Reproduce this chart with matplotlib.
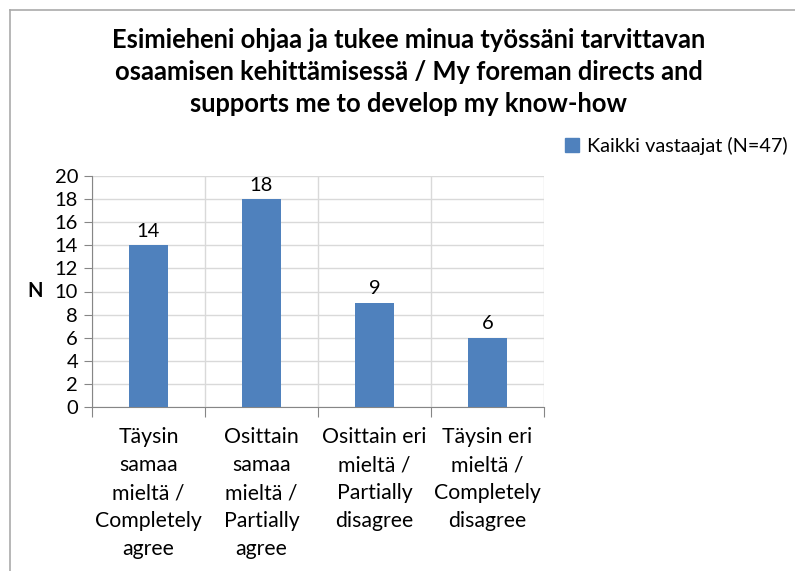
import matplotlib
matplotlib.use("Agg")
import matplotlib.pyplot as plt
from matplotlib.patches import Rectangle
from matplotlib.lines import Line2D

categories = ["Täysin\nsamaa\nmieltä /\nCompletely\nagree",
              "Osittain\nsamaa\nmieltä /\nPartially\nagree",
              "Osittain eri\nmieltä /\nPartially\ndisagree",
              "Täysin eri\nmieltä /\nCompletely\ndisagree"]
values = [14, 18, 9, 6]
series_name = "Kaikki vastaajat (N=47)"
title = "Esimieheni ohjaa ja tukee minua työssäni tarvittavan\nosaamisen kehittämisessä / My foreman directs and\nsupports me to develop my know-how"
yticks = list(range(0, 21, 2))

plt.rcParams['font.family'] = ['Lato', 'DejaVu Sans']
W, H = 795, 571
fig = plt.figure(figsize=(W/100, H/100), dpi=100)

def fx(px): return px / W
def fy(py): return 1 - py / H

left, right, top, bottom = 92, 544, 176, 407
ax = fig.add_axes([fx(left), fy(bottom), fx(right - left), (bottom - top) / H])

bar_color = "#4F81BD"
x = list(range(len(values)))
ax.bar(x, values, width=0.34, color=bar_color, zorder=3)
for xi, v in zip(x, values):
    ax.annotate(str(v), (xi, v), xytext=(0, 4), textcoords="offset points",
                ha="center", va="bottom", fontsize=14.5, color="#000000")

ax.set_xlim(-0.5, len(values) - 0.5)
ax.set_ylim(0, 20)
ax.set_yticks(yticks)
ax.set_yticklabels([str(t) for t in yticks], fontsize=14.5)
ax.set_xticks([i - 0.5 for i in range(len(values) + 1)], minor=False)
ax.set_xticklabels([])
ax.set_xticks(x, minor=True)
ax.set_xticklabels(categories, minor=True, fontsize=15.3, linespacing=1.5)
ax.tick_params(axis='x', which='minor', length=0, pad=14.5)
ax.tick_params(axis='x', which='major', length=7, color="#868686", direction='out')
ax.tick_params(axis='y', length=6, color="#868686", pad=4)

ax.grid(True, which='major', axis='both', color="#d9d9d9", linewidth=1, zorder=0)
for s in ["top", "right"]:
    ax.spines[s].set_visible(False)
ax.spines["left"].set_color("#868686")
ax.spines["bottom"].set_color("#868686")

ax.set_ylabel("N", fontsize=14.5, fontweight="bold", rotation=0, labelpad=14, va="center")

fig.text(fx(409), fy(72), title, ha="center", va="center", fontsize=18.4,
         fontweight="bold", linespacing=1.39)

leg_handle = Rectangle((0, 0), 1, 1, color=bar_color)
fig.legend([leg_handle], [series_name], loc="center left",
           bbox_to_anchor=(fx(557), fy(146)), frameon=False, fontsize=14.3,
           handlelength=0.7, handleheight=0.7, handletextpad=0.4, borderaxespad=0)

# chart border (top and left edges visible)
fig.add_artist(Line2D([fx(9.5), 1.0], [fy(9.5), fy(9.5)], transform=fig.transFigure,
                      color="#aaaaaa", linewidth=1.2))
fig.add_artist(Line2D([fx(9.5), fx(9.5)], [fy(9.5), 0.0], transform=fig.transFigure,
                      color="#aaaaaa", linewidth=1.2))

fig.savefig("out.png", dpi=100)
